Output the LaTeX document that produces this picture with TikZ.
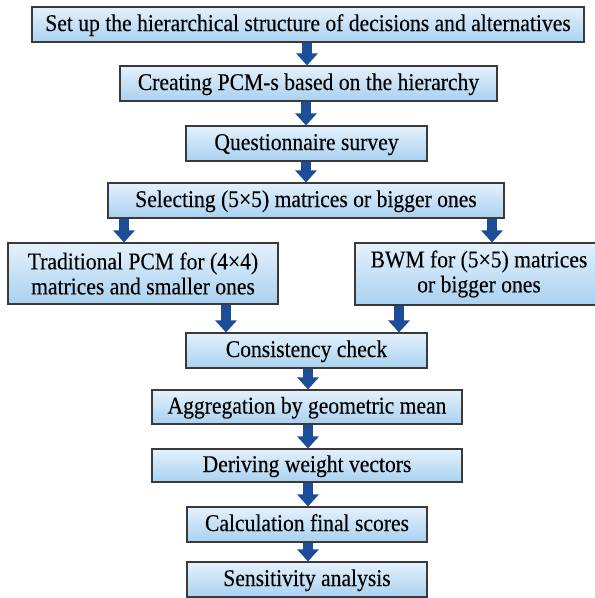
\documentclass[tikz,border=0pt]{standalone}
\usepackage{fontspec}
\setmainfont{Liberation Serif}[FakeStretch=0.9,FakeBold=0.2]
\usetikzlibrary{arrows.meta}
\definecolor{boxtop}{HTML}{E4F1FC}
\definecolor{boxbot}{HTML}{A9D1F0}
\definecolor{boxline}{HTML}{3A3A3A}
\definecolor{arrblue}{HTML}{1C4E98}
\begin{document}
\begin{tikzpicture}[x=1pt,y=-1pt,
  boxbase/.style={draw=boxline, line width=1.1pt, top color=boxtop, bottom color=boxbot,
    inner sep=0pt, align=center, font=\fontsize{24}{25}\selectfont},
  stage/.style={boxbase, text height=17pt, text depth=4pt},
  twoline/.style={boxbase},
  flow/.style={draw=arrblue, line width=10pt, -{Triangle[width=21pt,length=12pt]}}]
\useasboundingbox (0,0) rectangle (595,598);
\fill[white] (0,0) rectangle (595,598);

% process steps
\node[stage, minimum width=552pt, minimum height=35pt] (n1) at (308,24.5)
  {Set up the hierarchical structure of decisions and alternatives};
\node[stage, minimum width=377pt, minimum height=35pt] (n2) at (308.5,83.5)
  {Creating PCM-s based on the hierarchy};
\node[stage, minimum width=241pt, minimum height=35pt] (n3) at (306.5,143.5)
  {Questionnaire survey};
\node[stage, minimum width=396pt, minimum height=35pt] (n4) at (306,200.5)
  {Selecting (5×5) matrices or bigger ones};
\node[twoline, minimum width=270pt, minimum height=61pt] (n5) at (143,273.5)
  {Traditional PCM for (4×4)\\matrices and smaller ones};
\node[twoline, minimum width=248pt, minimum height=62pt] (n6) at (479,274)
  {BWM for (5×5) matrices\\or bigger ones};
\node[stage, minimum width=241pt, minimum height=35pt] (n7) at (306.5,350.5)
  {Consistency check};
\node[stage, minimum width=310pt, minimum height=34pt] (n8) at (307,407)
  {Aggregation by geometric mean};
\node[stage, minimum width=310pt, minimum height=33pt] (n9) at (307,465.5)
  {Deriving weight vectors};
\node[stage, minimum width=240pt, minimum height=35pt] (n10) at (307,524.5)
  {Calculation final scores};
\node[stage, minimum width=240pt, minimum height=35pt] (n11) at (307,579.5)
  {Sensitivity analysis};

% connectors
\draw[flow] (307,0 |- n1.south) -- (307,0 |- n2.north);
\draw[flow] (306,0 |- n2.south) -- (306,0 |- n3.north);
\draw[flow] (306,0 |- n3.south) -- (306,0 |- n4.north);
\draw[flow] (124,0 |- n4.south) -- (124,0 |- n5.north);
\draw[flow] (492,0 |- n4.south) -- (492,0 |- n6.north);
\draw[flow] (226,0 |- n5.south) -- (226,0 |- n7.north);
\draw[flow] (399,0 |- n6.south) -- (399,0 |- n7.north);
\draw[flow] (308,0 |- n7.south) -- (308,0 |- n8.north);
\draw[flow] (308,0 |- n8.south) -- (308,0 |- n9.north);
\draw[flow] (308,0 |- n9.south) -- (308,0 |- n10.north);
\draw[flow] (308,0 |- n10.south) -- (308,0 |- n11.north);
\end{tikzpicture}
\end{document}
